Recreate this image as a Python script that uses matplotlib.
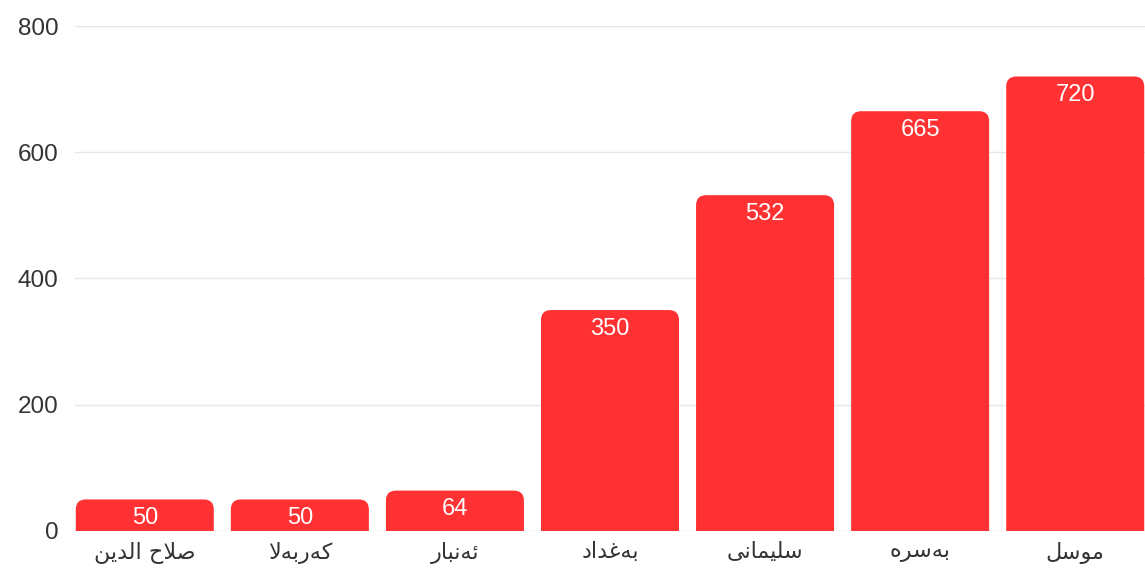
import matplotlib
matplotlib.use("Agg")
import matplotlib.pyplot as plt
from matplotlib.path import Path
from matplotlib.patches import PathPatch

# data
cities = ["صلاح الدين", "کەربەلا", "ئەنبار", "بەغداد", "سلێمانی", "بەسرە", "موسڵ"]
counts = [50, 50, 64, 350, 532, 665, 720]
yticks = [0, 200, 400, 600, 800]

BAR_COLOR = "#FF3132"
TEXT_COLOR = "#333333"
GRID_COLOR = "#E6E6E6"

# --- tiny arabic shaper (matplotlib does no shaping on its own) ---
# (isolated, final, initial, medial)
FORMS = {
    "ا": ("\uFE8D", "\uFE8E", None, None),
    "ئ": ("\uFE89", "\uFE8A", "\uFE8B", "\uFE8C"),
    "ب": ("\uFE8F", "\uFE90", "\uFE91", "\uFE92"),
    "ح": ("\uFEA1", "\uFEA2", "\uFEA3", "\uFEA4"),
    "د": ("\uFEA9", "\uFEAA", None, None),
    "ر": ("\uFEAD", "\uFEAE", None, None),
    "س": ("\uFEB1", "\uFEB2", "\uFEB3", "\uFEB4"),
    "ص": ("\uFEB9", "\uFEBA", "\uFEBB", "\uFEBC"),
    "غ": ("\uFECD", "\uFECE", "\uFECF", "\uFED0"),
    "ل": ("\uFEDD", "\uFEDE", "\uFEDF", "\uFEE0"),
    "م": ("\uFEE1", "\uFEE2", "\uFEE3", "\uFEE4"),
    "ن": ("\uFEE5", "\uFEE6", "\uFEE7", "\uFEE8"),
    "و": ("\uFEED", "\uFEEE", None, None),
    "ي": ("\uFEF1", "\uFEF2", "\uFEF3", "\uFEF4"),
    "ی": ("\uFBFC", "\uFBFD", "\uFBFE", "\uFBFF"),
    "ک": ("\uFB8E", "\uFB8F", "\uFB90", "\uFB91"),
    "ە": ("\u06D5", "\uFEEA", None, None),
    # no presentation forms for these two, closest joined shapes
    "ێ": ("\u06CE", "\uFBFD", "\uFBFE", "\uFBFF"),
    "ڵ": ("\u06B5", "\uFEDE", "\uFEDF", "\uFEE0"),
}


def dual(c):
    return c in FORMS and FORMS[c][2] is not None


def shape(text):
    chars = list(text)
    glyphs = []
    i = 0
    while i < len(chars):
        c = chars[i]
        if c not in FORMS:
            glyphs.append(c)
            i += 1
            continue
        prev_join = i > 0 and dual(chars[i - 1])
        if c == "ل" and i + 1 < len(chars) and chars[i + 1] == "ا":
            glyphs.append("\uFEFC" if prev_join else "\uFEFB")
            i += 2
            continue
        next_join = dual(c) and i + 1 < len(chars) and chars[i + 1] in FORMS
        iso, fin, ini, med = FORMS[c]
        if prev_join and next_join:
            g = med
        elif prev_join:
            g = fin
        elif next_join:
            g = ini
        else:
            g = iso
        glyphs.append(g)
        i += 1
    return "".join(reversed(glyphs))


fig = plt.figure(figsize=(11.45, 5.69), dpi=100)
ax = fig.add_axes([0.0655, 0.0668, 0.9345, 0.8875])

x = list(range(len(cities)))
bars = ax.bar(x, counts, width=0.89, color=BAR_COLOR, zorder=2)
ax.set_xlim(-0.45, 6.45)
ax.set_ylim(0, 800)

# rounded top corners, radius given in pixels
fig.canvas.draw()
px_x = ax.transData.transform((1, 0))[0] - ax.transData.transform((0, 0))[0]
px_y = ax.transData.transform((0, 100))[1] - ax.transData.transform((0, 0))[1]
r = 10
for b in bars:
    x0, w, h = b.get_x(), b.get_width(), b.get_height()
    rx = r / px_x
    ry = min(r / px_y * 100, h)
    verts = [(x0, 0), (x0, h - ry), (x0, h), (x0 + rx, h),
             (x0 + w - rx, h), (x0 + w, h), (x0 + w, h - ry),
             (x0 + w, 0), (x0, 0)]
    codes = [Path.MOVETO, Path.LINETO, Path.CURVE3, Path.CURVE3,
             Path.LINETO, Path.CURVE3, Path.CURVE3, Path.LINETO, Path.CLOSEPOLY]
    ax.add_patch(PathPatch(Path(verts, codes), facecolor=BAR_COLOR,
                           edgecolor="none", zorder=2))
    b.set_visible(False)
    ax.annotate(str(int(h)), (x0 + w / 2, h), xytext=(0, -5.5),
                textcoords="offset points", ha="center", va="top",
                color="white", fontsize=17, family="Liberation Sans", zorder=3)

ax.set_yticks(yticks)
ax.set_yticklabels([str(v) for v in yticks], family="Liberation Sans",
                   fontsize=17.5, color=TEXT_COLOR)
ax.set_xticks(x)
ax.set_xticklabels([shape(c) for c in cities], family="DejaVu Sans",
                   fontsize=16, color=TEXT_COLOR)
ax.tick_params(axis="both", length=0)
ax.tick_params(axis="y", pad=12)
ax.tick_params(axis="x", pad=8)
ax.grid(axis="y", color=GRID_COLOR, linewidth=1, zorder=0)
ax.set_axisbelow(True)
for s in ax.spines.values():
    s.set_visible(False)

fig.savefig("out.png", dpi=100, facecolor="white")
